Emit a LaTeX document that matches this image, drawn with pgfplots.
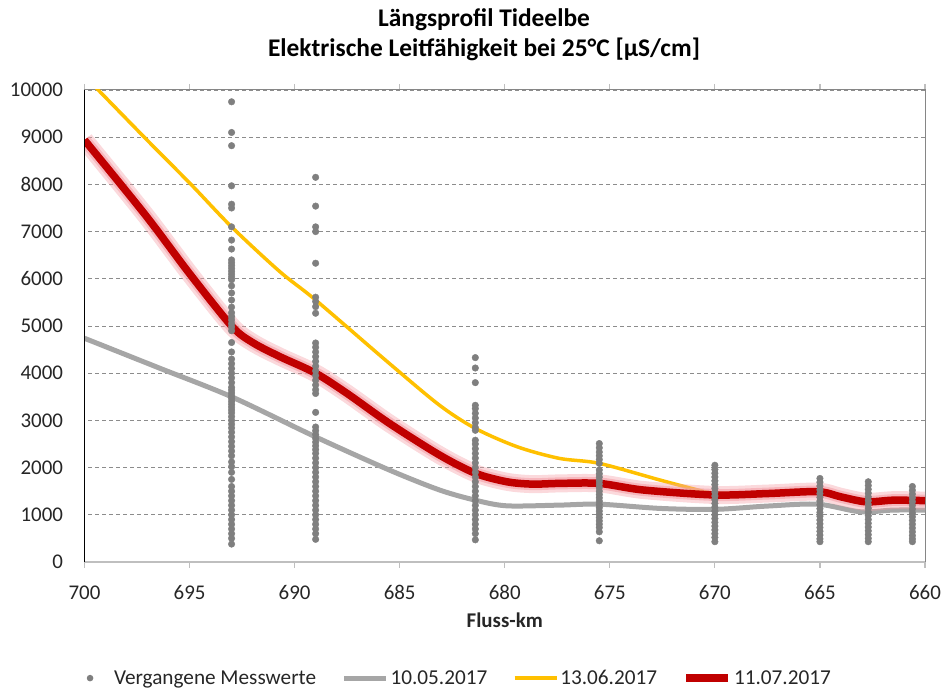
\documentclass[border=0pt]{standalone}
\usepackage{pgfplots}
\pgfplotsset{compat=1.18}
\usepackage{fontspec}
\setmainfont{Carlito}
\definecolor{cgray}{HTML}{A6A6A6}
\definecolor{cyel}{HTML}{FFC000}
\definecolor{cred}{HTML}{C00000}
\definecolor{cdot}{HTML}{7F7F7F}
\definecolor{cgrid}{HTML}{8C8C8C}
\definecolor{caxis}{HTML}{868686}
\definecolor{cbot}{HTML}{BFBFBF}
\definecolor{cglow}{HTML}{F4A0A8}
\definecolor{ctext}{HTML}{262626}
\begin{document}
\begin{tikzpicture}[x=1bp,y=1bp]
\useasboundingbox (-84.5,-127) rectangle (860.5,562);
\begin{axis}[
 name=ax,
 at={(0,0)}, anchor=south west,
 scale only axis, width=840.5bp, height=472bp,
 x dir=reverse, xmin=660, xmax=700, ymin=0, ymax=10000,
 xtick={660,665,...,700}, ytick={0,1000,...,10000},
 ymajorgrids, grid style={cgrid, line width=0.8bp, dash pattern=on 4bp off 3bp},
 axis line style={caxis, line width=1bp},
 tick align=outside, major tick length=6bp,
 xtick style={cbot, line width=1.2bp}, ytick style={draw=none},
 ticklabel style={font=\fontsize{21}{25}\selectfont, text=ctext},
 yticklabel style={xshift=-12bp},
 xticklabel style={yshift=-14bp},
 /pgf/number format/assume math mode=true, /pgf/number format/1000 sep={},
 scaled y ticks=false,
 xlabel={\textbf{Fluss-km}},
 xlabel style={font=\fontsize{21}{25}\selectfont, text=ctext, at={(axis description cs:0.5,0)}, anchor=center, yshift=-58bp},
 legend columns=4,
 legend style={draw=none, fill=none, at={(0.4465,-0.246)}, anchor=center,
   font=\fontsize{21.3}{25}\selectfont, text=ctext,
   /tikz/every even column/.append style={column sep=23.5bp},
   /tikz/every odd column/.append style={column sep=0bp}},
 legend image code/.code={\draw[#1] (0bp,0bp) -- (42bp,0bp);},
]
\addplot[only marks, mark=*, mark size=3.3bp, color=cdot, mark options={draw=none, fill=cdot},
  legend image code/.code={\path[draw=none,fill=none] (-3.3bp,0bp) rectangle (22bp,0.1bp); \fill[cdot,draw=none] (0bp,0bp) circle (3.3bp);}] table {
693.0 9750
693.0 9100
693.0 8820
693.0 7970
693.0 7580
693.0 7500
693.0 7100
693.0 6820
693.0 6630
693.0 6400
693.0 6340
693.0 6280
693.0 6220
693.0 6160
693.0 6100
693.0 6040
693.0 5980
693.0 5850
693.0 5700
693.0 5550
693.0 5400
693.0 5280
693.0 5200
693.0 5130
693.0 5050
693.0 4980
693.0 4900
693.0 4650
693.0 4450
693.0 4300
693.0 4200
693.0 4100
693.0 4000
693.0 3900
693.0 3800
693.0 3700
693.0 3640
693.0 3580
693.0 3520
693.0 3460
693.0 3400
693.0 3340
693.0 3280
693.0 3220
693.0 3160
693.0 3080
693.0 3000
693.0 2920
693.0 2840
693.0 2750
693.0 2650
693.0 2550
693.0 2450
693.0 2350
693.0 2250
693.0 2120
693.0 2020
693.0 1900
693.0 1750
693.0 1600
693.0 1500
693.0 1400
693.0 1300
693.0 1200
693.0 1100
693.0 1000
693.0 900
693.0 800
693.0 700
693.0 600
693.0 500
693.0 380
689.0 8150
689.0 7540
689.0 7100
689.0 7000
689.0 6330
689.0 5610
689.0 5520
689.0 5410
689.0 5270
689.0 4640
689.0 4550
689.0 4450
689.0 4350
689.0 4250
689.0 4150
689.0 4050
689.0 3950
689.0 3850
689.0 3750
689.0 3650
689.0 3570
689.0 3170
689.0 2860
689.0 2780
689.0 2700
689.0 2620
689.0 2540
689.0 2460
689.0 2380
689.0 2300
689.0 2200
689.0 2100
689.0 2000
689.0 1900
689.0 1800
689.0 1700
689.0 1600
689.0 1500
689.0 1400
689.0 1300
689.0 1200
689.0 1100
689.0 1000
689.0 900
689.0 800
689.0 700
689.0 600
689.0 480
681.4 4330
681.4 4110
681.4 3800
681.4 3320
681.4 3250
681.4 3150
681.4 3050
681.4 2950
681.4 2850
681.4 2790
681.4 2580
681.4 2500
681.4 2400
681.4 2300
681.4 2200
681.4 2100
681.4 2000
681.4 1900
681.4 1800
681.4 1700
681.4 1600
681.4 1500
681.4 1400
681.4 1300
681.4 1200
681.4 1100
681.4 1000
681.4 900
681.4 800
681.4 700
681.4 600
681.4 470
675.5 2510
675.5 2420
675.5 2330
675.5 2250
675.5 2170
675.5 2090
675.5 1950
675.5 1870
675.5 1800
675.5 1720
675.5 1650
675.5 1580
675.5 1500
675.5 1430
675.5 1360
675.5 1290
675.5 1220
675.5 1150
675.5 1080
675.5 1010
675.5 940
675.5 870
675.5 800
675.5 730
675.5 640
675.5 450
670.0 2050
670.0 1960
670.0 1880
670.0 1800
670.0 1720
670.0 1640
670.0 1560
670.0 1480
670.0 1400
670.0 1320
670.0 1240
670.0 1160
670.0 1080
670.0 1000
670.0 920
670.0 840
670.0 760
670.0 680
670.0 600
670.0 520
670.0 430
665.0 1770
665.0 1690
665.0 1610
665.0 1530
665.0 1450
665.0 1370
665.0 1290
665.0 1210
665.0 1130
665.0 1050
665.0 970
665.0 890
665.0 810
665.0 730
665.0 650
665.0 570
665.0 490
665.0 430
662.7 1700
662.7 1620
662.7 1540
662.7 1460
662.7 1380
662.7 1300
662.7 1220
662.7 1140
662.7 1060
662.7 980
662.7 900
662.7 820
662.7 740
662.7 660
662.7 580
662.7 500
662.7 430
660.6 1600
660.6 1520
660.6 1440
660.6 1360
660.6 1280
660.6 1200
660.6 1120
660.6 1040
660.6 960
660.6 880
660.6 800
660.6 720
660.6 640
660.6 560
660.6 490
660.6 430
};
\addlegendentry{Vergangene Messwerte}
\addplot[smooth, color=cgray, line width=5bp] table {
700 4740
696.5 4120
693 3500
689 2650
685.5 1950
683.1 1525
681.4 1310
679.9 1190
677.4 1205
675.5 1225
672.6 1135
670 1115
667.5 1185
665.1 1225
663.1 1065
661.5 1100
660 1100
};
\addlegendentry{10.05.2017}
\addplot[smooth, color=cyel, line width=3.5bp] table {
700 10300
697.1 8975
694.9 7985
693 7100
690.7 6150
689 5550
685.5 4210
683.1 3320
681.4 2830
679.4 2440
677.4 2195
675.5 2090
672.6 1735
670.8 1525
670 1460
667.5 1450
665.1 1490
664 1380
662.8 1275
661.5 1310
660 1300
};
\addlegendentry{13.06.2017}
\addplot[smooth, forget plot, color=cglow, line width=18bp, opacity=0.4] table {
700 8940
697.1 7350
695 6110
693 5000
692 4650
690.7 4350
689 4000
687.5 3570
685.5 2940
683.1 2265
681.4 1880
679.9 1700
678.7 1650
677.4 1665
675.5 1665
673.4 1525
670 1420
667.5 1450
665.1 1490
664 1380
662.8 1275
661.5 1310
660 1300
};
\addplot[smooth, forget plot, color=cglow, line width=12bp, opacity=0.6] table {
700 8940
697.1 7350
695 6110
693 5000
692 4650
690.7 4350
689 4000
687.5 3570
685.5 2940
683.1 2265
681.4 1880
679.9 1700
678.7 1650
677.4 1665
675.5 1665
673.4 1525
670 1420
667.5 1450
665.1 1490
664 1380
662.8 1275
661.5 1310
660 1300
};
\addplot[smooth, color=cred, line width=7.5bp] table {
700 8940
697.1 7350
695 6110
693 5000
692 4650
690.7 4350
689 4000
687.5 3570
685.5 2940
683.1 2265
681.4 1880
679.9 1700
678.7 1650
677.4 1665
675.5 1665
673.4 1525
670 1420
667.5 1450
665.1 1490
664 1380
662.8 1275
661.5 1310
660 1300
};
\addlegendentry{11.07.2017}
\end{axis}
\draw[cbot, line width=1.5bp] (ax.south west) -- (ax.south east);
\draw[black, line width=1bp] (ax.south west) -- (ax.north west);
\node[align=center, text=black, font=\bfseries\fontsize{25.5}{30}\selectfont] at (399.5,527) {Längsprofil Tideelbe\\Elektrische Leitfähigkeit bei 25°C [µS/cm]};
\end{tikzpicture}
\end{document}
